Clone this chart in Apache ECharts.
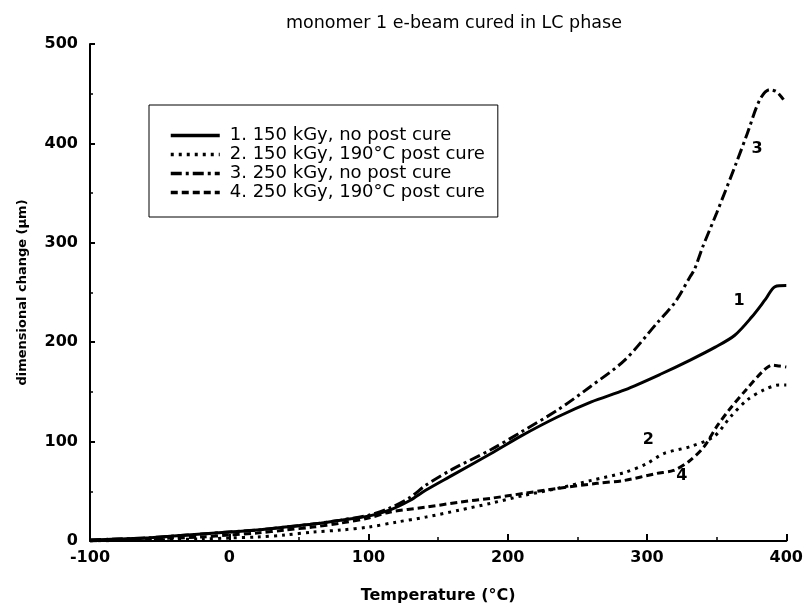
<!DOCTYPE html>
<html>
<head>
<meta charset="utf-8">
<script src="https://cdn.jsdelivr.net/npm/echarts@6/dist/echarts.min.js"></script>
<style>html,body{margin:0;padding:0;background:#fff}#c{width:806px;height:609px}</style>
</head>
<body>
<div id="c"></div>
<script>
// ---- data ----
const titleText = 'monomer 1 e-beam cured in LC phase';
const xName = 'Temperature (°C)';
const yName = 'dimensional change (µm)';
const seriesNames = ['1. 150 kGy, no post cure', '2. 150 kGy, 190°C post cure', '3. 250 kGy, no post cure', '4. 250 kGy, 190°C post cure'];
const curveLabels = ['1', '2', '3', '4'];

const T1 = [-100,-80,-60,-40,-20,0,20,40,60,80,100,115,130,141,160,188,210,236,260,284,310,331,349,363,375,385,392,400];
const V1 = [1,2,3,5,7,9,11,14,17,21,25,31,41,51,66,88,106,125,140,152,168,182,195,207,225,243,256,257];

const T2 = [-100,-60,-20,0,20,40,60,80,100,120,141,165,188,212,236,260,284,300,312,331,348,360,372,384,395,400];
const V2 = [0,1,2,3,4,6,9,11,14,19,24,31,38,46,53,61,69,78,88,95,105,125,142,152,157,157];

const T3 = [-100,-80,-60,-40,-20,0,20,40,60,80,100,115,130,141,160,188,210,236,259,284,307,320,331,334,340,350,364,372,381,388,393,398];
const V3 = [1,2,3,5,7,9,11,14,17,21,26,33,44,56,72,92,110,132,155,182,219,240,266,273,296,330,380,410,444,454,452,444];

const T4 = [-100,-80,-60,-40,-20,0,20,40,60,80,100,115,141,165,188,212,236,264,284,307,319,330,341,350,359,371,384,390,395,400];
const V4 = [0,1,2,3,4,6,8,11,14,18,23,29,34,39,43,48,53,58,61,68,71,80,95,115,132,152,172,177,176,175];

// label anchor positions in data units (T, value)
const labelT = [366, 301, 379, 325];
const labelV = [242, 102, 395, 66];

const xTicks = {min: -100, max: 400, interval: 100};
const yTicks = {min: 0, max: 500, interval: 100};

// ---- chart ----
const zip = (a, b) => a.map((t, i) => [t, b[i]]);
const dashes = ['solid', [3, 5], [11, 4, 3, 4], [7, 4]];
const Ts = [T1, T2, T3, T4];
const Vs = [V1, V2, V3, V4];

const chart = echarts.init(document.getElementById('c'), null, {renderer: 'canvas'});
const axisCommon = {
  axisLine: {show: true, onZero: false, lineStyle: {color: '#000', width: 2}},
  axisTick: {show: true, inside: true, length: 7, lineStyle: {color: '#000', width: 2}},
  minorTick: {show: true, splitNumber: 2, length: 4, lineStyle: {color: '#000', width: 1.5}},
  splitLine: {show: false},
  axisLabel: {color: '#000', fontFamily: 'DejaVu Sans', fontWeight: 'bold', fontSize: 16}
};

chart.setOption({
  animation: false,
  backgroundColor: '#fff',
  title: {
    text: titleText, left: 281, top: 9,
    textStyle: {fontFamily: 'DejaVu Sans', fontWeight: 'normal', fontSize: 17.5, color: '#000'}
  },
  legend: {
    orient: 'vertical', left: 149, top: 105,
    padding: [21, 13, 15, 20],
    borderColor: '#000', borderWidth: 1,
    itemWidth: 49, itemHeight: 12, itemGap: 0,
    selectedMode: false,
    itemStyle: {color: 'rgba(0,0,0,0)', borderWidth: 0, opacity: 0},
    lineStyle: {width: 3.5},
    textStyle: {fontFamily: 'DejaVu Sans', fontSize: 18, lineHeight: 19, color: '#000', padding: [0, 0, 0, 5]},
    data: seriesNames
  },
  grid: {left: 90, right: 16, top: 44, bottom: 68, containLabel: false},
  xAxis: Object.assign({}, axisCommon, {
    type: 'value', min: xTicks.min, max: xTicks.max, interval: xTicks.interval,
    name: xName, nameLocation: 'middle', nameGap: 47,
    nameTextStyle: {color: '#000', fontFamily: 'DejaVu Sans', fontWeight: 'bold', fontSize: 16},
    axisLabel: Object.assign({}, axisCommon.axisLabel, {margin: 9})
  }),
  yAxis: Object.assign({}, axisCommon, {
    type: 'value', min: yTicks.min, max: yTicks.max, interval: yTicks.interval,
    name: yName, nameLocation: 'middle', nameGap: 61,
    nameTextStyle: {color: '#000', fontFamily: 'DejaVu Sans', fontWeight: 'bold', fontSize: 13},
    axisTick: Object.assign({}, axisCommon.axisTick, {length: 5}),
    minorTick: Object.assign({}, axisCommon.minorTick, {length: 3}),
    axisLabel: Object.assign({}, axisCommon.axisLabel, {margin: 12})
  }),
  series: seriesNames.map((name, i) => ({
    name: name,
    type: 'line',
    data: zip(Ts[i], Vs[i]),
    showSymbol: false,
    symbol: 'none',
    smooth: 0.3,
    lineStyle: {color: '#000', width: 3, type: dashes[i], cap: 'butt'},
    itemStyle: {color: '#000'},
    markPoint: {
      silent: true,
      symbol: 'circle', symbolSize: 1,
      itemStyle: {color: 'rgba(0,0,0,0)'},
      label: {show: true, position: 'inside', formatter: curveLabels[i], color: '#000',
              fontFamily: 'DejaVu Sans', fontWeight: 'bold', fontSize: 16},
      data: [{coord: [labelT[i], labelV[i]]}]
    }
  }))
});
</script>
</body>
</html>
